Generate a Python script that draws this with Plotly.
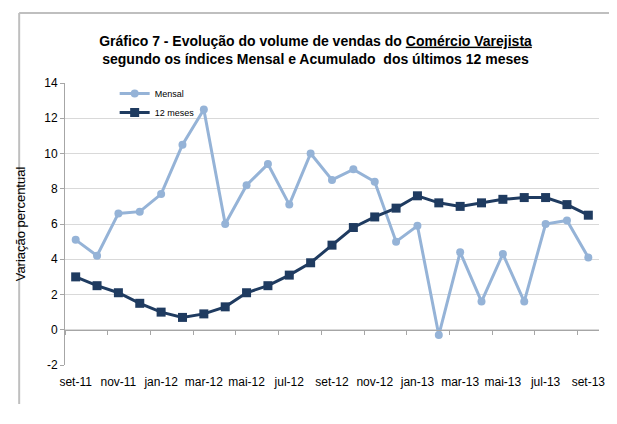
import plotly.graph_objects as go

# meses de set-11 a set-13
meses = [
    "set-11", "out-11", "nov-11", "dez-11", "jan-12", "fev-12", "mar-12",
    "abr-12", "mai-12", "jun-12", "jul-12", "ago-12", "set-12", "out-12",
    "nov-12", "dez-12", "jan-13", "fev-13", "mar-13", "abr-13", "mai-13",
    "jun-13", "jul-13", "ago-13", "set-13",
]
mensal = [
    5.1, 4.2, 6.6, 6.7, 7.7, 10.5, 12.5, 6.0, 8.2, 9.4, 7.1, 10.0, 8.5,
    9.1, 8.4, 5.0, 5.9, -0.3, 4.4, 1.6, 4.3, 1.6, 6.0, 6.2, 4.1,
]
doze_meses = [
    3.0, 2.5, 2.1, 1.5, 1.0, 0.7, 0.9, 1.3, 2.1, 2.5, 3.1, 3.8, 4.8,
    5.8, 6.4, 6.9, 7.6, 7.2, 7.0, 7.2, 7.4, 7.5, 7.5, 7.1, 6.5,
]
y_ticks = [-2, 0, 2, 4, 6, 8, 10, 12, 14]
y_labels = ["-2", "0", "2", "4", "6", "8", "10", "12", "14"]

FONT = "'Liberation Sans Narrow', 'Arial Narrow', 'Liberation Sans', Arial, sans-serif"
GRID = "#d9d9d9"
AXIS = "#a6a6a6"
FRAME = "#bfbfbf"

fig = go.Figure()
fig.add_trace(go.Scatter(
    x=meses, y=mensal, name="Mensal", mode="lines+markers",
    line=dict(color="#95b3d7", width=3),
    marker=dict(symbol="circle", size=8, color="#95b3d7"),
))
fig.add_trace(go.Scatter(
    x=meses, y=doze_meses, name="12 meses", mode="lines+markers",
    line=dict(color="#1f3b60", width=3),
    marker=dict(symbol="square", size=9, color="#1f3b60"),
))

# the page body adds 8px margins, so the figure is kept smaller than the
# window (no scrollbar) and margins keep the plot area in place
fig.update_layout(
    width=609, height=396,
    margin=dict(l=47, r=14, t=75, b=39),
    paper_bgcolor="white", plot_bgcolor="white",
    font=dict(family=FONT, size=12, color="#000000"),
    showlegend=True,
    title=dict(
        text="<b>Gráfico 7 - Evolução do volume de vendas do <u>Comércio Varejista</u>"
             "<br>segundo os índices Mensal e Acumulado  dos últimos 12 meses</b>",
        x=0.505, xanchor="center", y=0.9048, yanchor="middle",
        font=dict(family=FONT, size=14, color="#000000"),
    ),
    legend=dict(
        x=0.093, xanchor="left", y=1.014, yanchor="top",
        bgcolor="rgba(0,0,0,0)", font=dict(family=FONT, size=9),
        itemwidth=30, tracegroupgap=0,
    ),
    xaxis=dict(
        type="category", categoryarray=meses, range=[-0.5, 24.5],
        tickmode="linear", tick0=0, dtick=2,
        showgrid=False, showline=False, ticks="", zeroline=False,
        tickfont=dict(family=FONT, size=12),
        ticklabelstandoff=8,
    ),
    xaxis2=dict(
        type="category", categoryarray=meses, range=[-0.5, 24.5],
        overlaying="x", anchor="free", position=0.125,
        tickmode="linear", tick0=0, dtick=2, tickson="boundaries",
        ticks="outside", ticklen=4, tickcolor=AXIS,
        showline=True, linecolor=AXIS, linewidth=1,
        showgrid=False, showticklabels=False, zeroline=False,
    ),
    yaxis=dict(
        range=[-2, 14], tickmode="array", tickvals=y_ticks, ticktext=y_labels,
        showgrid=True, gridcolor=GRID, gridwidth=1,
        showline=True, linecolor=AXIS, linewidth=1,
        ticks="outside", ticklen=4, tickcolor=AXIS,
        zeroline=False,
        tickfont=dict(family=FONT, size=12),
        title=dict(text="Variação percentual",
                   font=dict(family="'Liberation Sans', Arial, sans-serif", size=13)),
    ),
    shapes=[
        # moldura do gráfico (só topo e lado esquerdo ficam visíveis)
        dict(type="line", xref="paper", yref="paper",
             x0=-0.0858, x1=1.2, y0=1.248, y1=1.248,
             line=dict(color=FRAME, width=2), layer="below"),
        dict(type="line", xref="paper", yref="paper",
             x0=-0.0858, x1=-0.0858, y0=-0.6, y1=1.248,
             line=dict(color=FRAME, width=2), layer="below"),
    ],
)
# traço fantasma para ativar o eixo x2
fig.add_trace(go.Scatter(x=[meses[0]], y=[None], xaxis="x2", showlegend=False,
                         hoverinfo="skip"))

fig.write_html("out.html")
